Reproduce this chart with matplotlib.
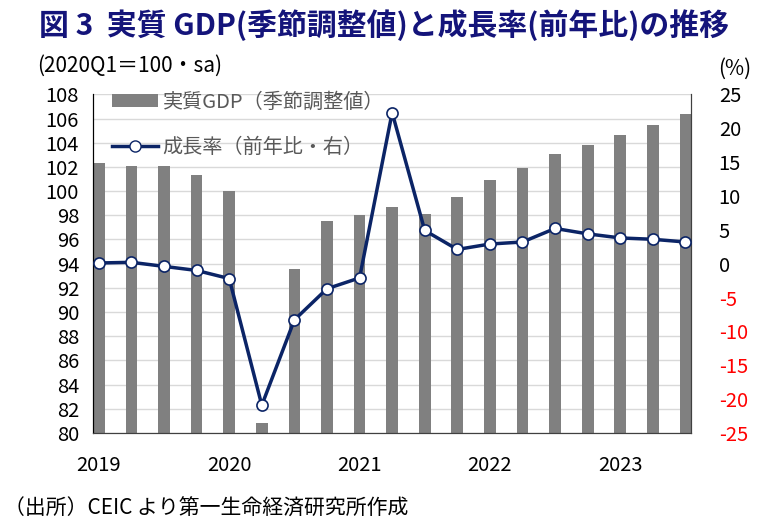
import numpy as np
import matplotlib
matplotlib.use("Agg")
import matplotlib.pyplot as plt
from matplotlib.patches import Patch
from matplotlib.lines import Line2D

plt.rcParams['font.family'] = ['Noto Sans CJK JP', 'DejaVu Sans']

# 2019Q1 .. 2023Q3
quarters = ["2019Q1", "2019Q2", "2019Q3", "2019Q4",
            "2020Q1", "2020Q2", "2020Q3", "2020Q4",
            "2021Q1", "2021Q2", "2021Q3", "2021Q4",
            "2022Q1", "2022Q2", "2022Q3", "2022Q4",
            "2023Q1", "2023Q2", "2023Q3"]
gdp = [102.3, 102.1, 102.1, 101.3,
       100.0, 80.8, 93.6, 97.5,
       98.0, 98.7, 98.1, 99.5,
       100.9, 101.9, 103.1, 103.8,
       104.6, 105.5, 106.4]
growth = [0.1, 0.2, -0.4, -1.0,
          -2.2, -20.9, -8.3, -3.7,
          -2.1, 22.3, 4.9, 2.1,
          2.9, 3.2, 5.2, 4.4,
          3.8, 3.6, 3.2]
year_labels = ["2019", "2020", "2021", "2022", "2023"]
left_ticks = list(range(80, 109, 2))
right_ticks = list(range(-25, 26, 5))

navy = "#0b2466"
bar_grey = "#808080"

x = np.arange(len(quarters))

fig = plt.figure(figsize=(7.68, 5.30), dpi=100)
ax = fig.add_axes([0.1211, 0.183, 0.7786, 0.639])
ax2 = ax.twinx()

ax.bar(x, gdp, width=0.36, color=bar_grey, zorder=2)
ax.set_ylim(80, 108)
ax.set_yticks(left_ticks)
ax.set_xlim(-0.18, len(quarters) - 1 + 0.17)
ax.set_xticks(x[::4])
ax.set_xticklabels(year_labels)
ax.grid(axis='y', color='#d9d9d9', linewidth=1.0, zorder=0)
ax.set_axisbelow(True)
ax.tick_params(axis='both', length=0, labelsize=14.5)
ax.tick_params(axis='y', pad=10)
ax.tick_params(axis='x', pad=16)

ax2.plot(x, growth, color=navy, linewidth=2.5, marker='o', markersize=8,
         markerfacecolor='white', markeredgecolor=navy, markeredgewidth=1.2,
         zorder=3)
ax2.set_ylim(-25, 25)
ax2.set_yticks(right_ticks)
ax2.set_yticklabels([str(t) for t in right_ticks])
ax2.tick_params(axis='y', length=0, labelsize=14.5, pad=20)
for lbl, t in zip(ax2.get_yticklabels(), right_ticks):
    lbl.set_color('red' if t < 0 else 'black')

for a in (ax, ax2):
    a.spines['top'].set_visible(False)
    a.spines['left'].set_color('black')
    a.spines['bottom'].set_color('#404040')
    a.spines['right'].set_color('#404040')

handles = [Patch(facecolor=bar_grey, edgecolor='none'),
           Line2D([0], [0], color=navy, linewidth=2.5, marker='o', markersize=8,
                  markerfacecolor='white', markeredgecolor=navy)]
labels = ["実質GDP（季節調整値）", "成長率（前年比・右）"]
leg = ax2.legend(handles, labels, loc='upper left', bbox_to_anchor=(0.032, 1.008),
                 frameon=False, fontsize=14.5, labelspacing=1.2, handlelength=2.3,
                 handleheight=0.55, handletextpad=0.2, borderpad=0, borderaxespad=0)
for t in leg.get_texts():
    t.set_color('#595959')

fig.text(0.5, 0.952, "図 3  実質 GDP(季節調整値)と成長率(前年比)の推移",
         ha='center', va='center', fontsize=21.5, fontweight='bold', color='#14147a')
fig.text(0.048, 0.876, "(2020Q1＝100・sa)", ha='left', va='center', fontsize=15)
fig.text(0.957, 0.871, "(%)", ha='center', va='center', fontsize=15)
fig.text(0.005, 0.041, "（出所）CEIC より第一生命経済研究所作成", ha='left', va='center',
         fontsize=15)

fig.savefig("out.png", dpi=100)
